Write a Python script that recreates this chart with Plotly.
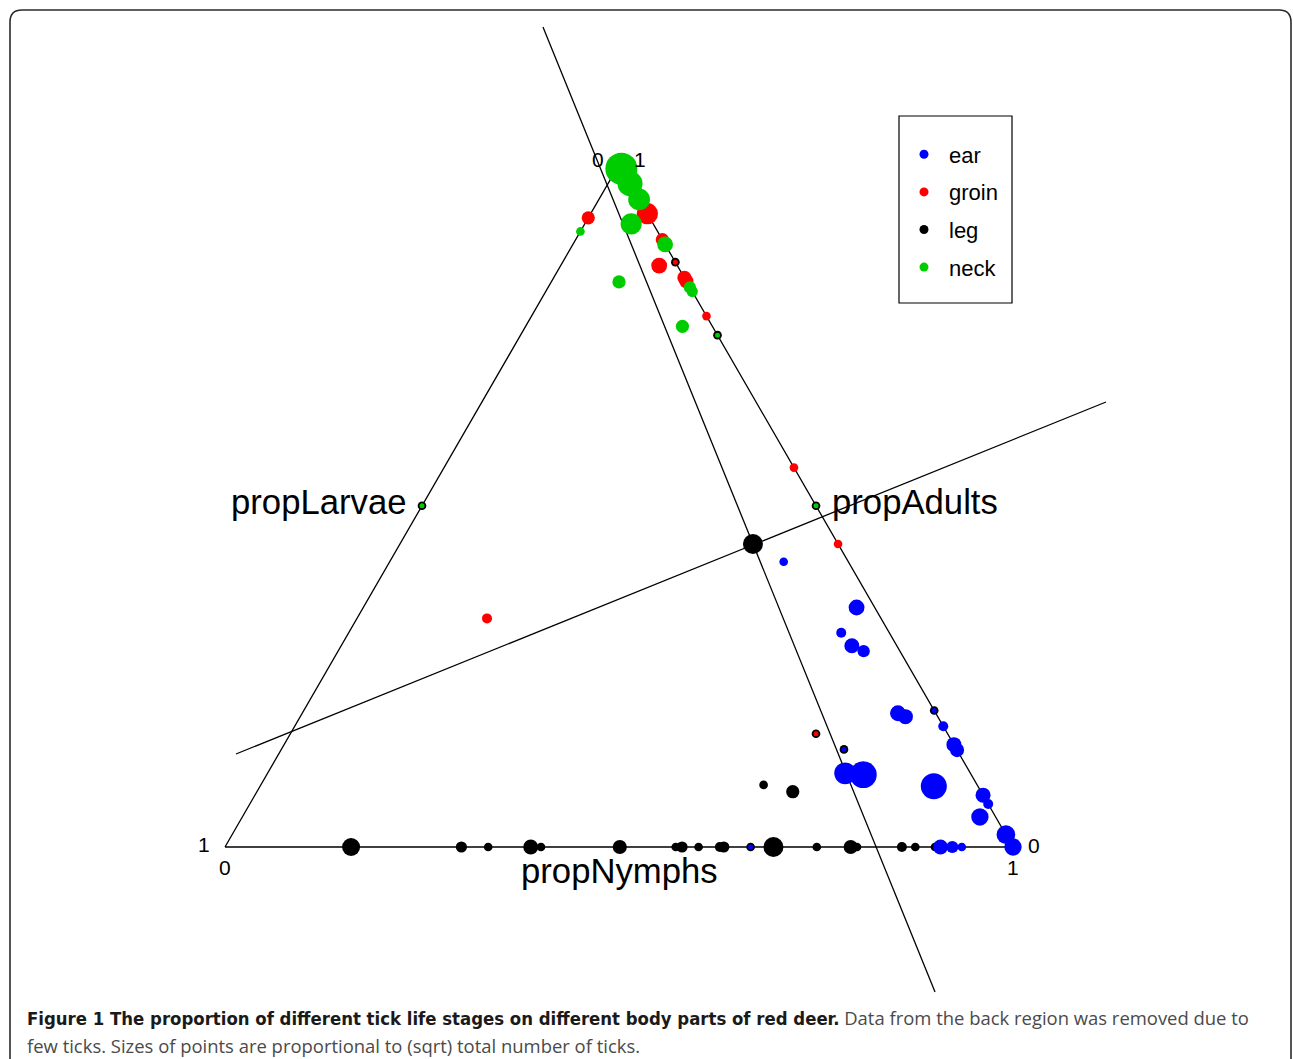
import numpy as np
import plotly.graph_objects as go

# ---------------- data: proportions (larvae, nymphs, adults) and total ticks ----------------
ear_larvae = [0.023, 0.061, 0.057, 0.046, 0.048, 0.041, 0, 0, 0, 0, 0.143, 0.159, 0.137, 0.056,
              0, 0, 0.020, 0, 0, 0.082, 0.092, 0.077, 0.065, 0.333]
ear_nymphs = [0.626, 0.625, 0.648, 0.667, 0.756, 0.768, 0.8, 0.823, 0.85, 0.858, 0.714, 0.733, 0.757, 0.855,
              0.924, 0.937, 0.936, 0.982, 1.0, 0.500, 0.908, 0.923, 0.935, 0.667]
ear_adults = [0.351, 0.314, 0.295, 0.287, 0.196, 0.191, 0.2, 0.177, 0.15, 0.142, 0.143, 0.108, 0.106, 0.089,
              0.076, 0.063, 0.044, 0.018, 0, 0.418, 0, 0, 0, 0]
ear_total = [10, 4, 9, 6, 10, 9, 1, 4, 9, 8, 1, 19, 29, 27, 9, 4, 12, 14, 12, 3, 9, 6, 3, 1]

groin_larvae = [0, 0.078, 0, 0, 0.023, 0, 0, 0, 0, 0, 0.5, 0.167]
groin_nymphs = [0.072, 0, 0.11, 0.143, 0.125, 0.166, 0.171, 0.222, 0.444, 0.556, 0.165, 0.667]
groin_adults = [0.928, 0.922, 0.89, 0.857, 0.852, 0.834, 0.829, 0.778, 0.556, 0.444, 0.335, 0.166]
groin_total = [18, 7, 7, 1, 10, 8, 8, 3, 3, 3, 4, 1]

leg_larvae = [0.271, 0.239, 0.840, 0.700, 0.666, 0.612, 0.599, 0.499, 0.428, 0.420, 0.399, 0.372, 0.367,
              0.304, 0.249, 0.206, 0.198, 0.141, 0.124, 0.099, 0.5, 0, 0, 0, 0, 0.143, 0.167, 0.333]
leg_nymphs = [0.638, 0.680, 0.160, 0.300, 0.334, 0.388, 0.401, 0.501, 0.572, 0.580, 0.601, 0.628, 0.633,
              0.696, 0.751, 0.794, 0.802, 0.859, 0.876, 0.901, 0, 0.5, 0.25, 0.143, 0.8, 0.714, 0.667, 0.667]
leg_adults = [0.091, 0.081, 0, 0, 0, 0, 0, 0, 0, 0, 0, 0, 0,
              0, 0, 0, 0, 0, 0, 0, 0.5, 0.5, 0.75, 0.857, 0.2, 0.143, 0.166, 0]
leg_total = [3, 7, 13, 5, 3, 9, 3, 8, 3, 5, 3, 4, 5, 16, 3, 8, 3, 4, 3, 3, 3, 3, 3, 3, 3, 3, 3, 3]

neck_larvae = [0, 0, 0, 0.028, 0.098, 0, 0, 0, 0.086, 0.038, 0, 0, 0.5]
neck_nymphs = [0.006, 0.028, 0.051, 0.059, 0, 0.117, 0.18, 0.186, 0.086, 0.199, 0.25, 0.5, 0]
neck_adults = [0.994, 0.972, 0.949, 0.913, 0.902, 0.883, 0.82, 0.814, 0.828, 0.763, 0.75, 0.5, 0.5]
neck_total = [41, 25, 19, 18, 3, 10, 6, 5, 7, 7, 1, 1, 1]

# centre of the compositions and the two principal axes through it (larvae, nymphs, adults)
centre = [0.108, 0.448, 0.444]
centre_total = 16
axis1_start = [-0.0043, -0.1973, 1.2016]
axis1_end = [0.2052, 1.0073, -0.2125]
axis2_start = [0.9179, -0.0542, 0.1363]
axis2_end = [-0.4441, 0.7920, 0.6521]

vertex_larvae = [1, 0, 0]
vertex_nymphs = [0, 1, 0]
vertex_adults = [0, 0, 1]

parts = ["ear", "groin", "leg", "neck"]
colours = {"ear": "#0000FF", "groin": "#FF0000", "leg": "#000000", "neck": "#00CD00"}

# ---------------- helpers ----------------
H = np.sqrt(3) / 2


def tern(l, n, a):
    l, n, a = (np.asarray(v, dtype=float) for v in (l, n, a))
    s = l + n + a
    return (n + a / 2) / s, (a * H) / s


def msize(total):
    return 5 * np.sqrt(np.asarray(total, dtype=float))


W, HGT = 1293, 1059
BLX, BLY, SCALE = 225, 847, 788  # pixel of larvae vertex and px per unit

fig = go.Figure()

# triangle
tx, ty = tern([1, 0, 0, 1], [0, 1, 0, 0], [0, 0, 1, 0])
fig.add_trace(go.Scatter(x=tx, y=ty, mode="lines", line=dict(color="black", width=1.3),
                         hoverinfo="skip", showlegend=False))

# principal axes
for s, e in [(axis1_start, axis1_end), (axis2_start, axis2_end)]:
    lx, ly = tern([s[0], e[0]], [s[1], e[1]], [s[2], e[2]])
    fig.add_trace(go.Scatter(x=lx, y=ly, mode="lines", line=dict(color="black", width=1.3),
                             hoverinfo="skip", showlegend=False))

data = {
    "ear": (ear_larvae, ear_nymphs, ear_adults, ear_total),
    "groin": (groin_larvae, groin_nymphs, groin_adults, groin_total),
    "leg": (leg_larvae, leg_nymphs, leg_adults, leg_total),
    "neck": (neck_larvae, neck_nymphs, neck_adults, neck_total),
}

for p in ["leg", "ear", "groin", "neck"]:
    l, n, a, t = data[p]
    x, y = tern(l, n, a)
    fig.add_trace(go.Scatter(x=x, y=y, mode="markers", name=p, showlegend=False,
                             marker=dict(color=colours[p], size=msize(t), line=dict(width=0), opacity=1)))

cx, cy = tern([centre[0]], [centre[1]], [centre[2]])
fig.add_trace(go.Scatter(x=cx, y=cy, mode="markers", showlegend=False,
                         marker=dict(color="black", size=msize([centre_total]), line=dict(width=0),
                                     opacity=1)))

# legend entries
for p in parts:
    fig.add_trace(go.Scatter(x=[None], y=[None], mode="markers", name=p, legendgroup=p,
                             marker=dict(color=colours[p], size=9)))

# ---------------- annotations ----------------
LBL = "Liberation Sans, Arial, Helvetica, sans-serif"
ann = []
mlx, mly = tern([0.5], [0], [0.5])
mrx, mry = tern([0], [0.5], [0.5])
mbx, mby = tern([0.5], [0.5], [0])
ann.append(dict(x=mlx[0], y=mly[0], text="propLarvae", xanchor="right", yanchor="middle",
                xshift=-13, yshift=4, font=dict(size=34.7, family=LBL, color="black")))
ann.append(dict(x=mrx[0], y=mry[0], text="propAdults", xanchor="left", yanchor="middle",
                xshift=14, yshift=4, font=dict(size=34.7, family=LBL, color="black")))
ann.append(dict(x=mbx[0], y=mby[0], text="propNymphs", xanchor="center", yanchor="middle",
                yshift=-24, font=dict(size=34.7, family=LBL, color="black")))

vt = tern(*vertex_adults)
vl = tern(*vertex_larvae)
vn = tern(*vertex_nymphs)
ticks = [
    (vt, "0", -21, 5), (vt, "1", 21, 5),
    (vl, "1", -21, 3), (vl, "0", 0, -20),
    (vn, "0", 21, 2), (vn, "1", 0, -20),
]
for (vx, vy), txt, dx, dy in ticks:
    ann.append(dict(x=float(vx), y=float(vy), text=txt, xanchor="center", yanchor="middle",
                    xshift=dx, yshift=dy, font=dict(size=21, family=LBL, color="black")))

cap1 = ('<span style="font-family:Liberation Sans Narrow, DejaVu Sans Condensed;font-weight:bold;'
        'font-size:18.4px;color:#1a1a1a">Figure 1 The proportion of different tick life stages on '
        'different body parts of red deer.</span> Data from the back region was removed due to')
cap2 = "few ticks. Sizes of points are proportional to (sqrt) total number of ticks."
ann.append(dict(xref="paper", yref="paper", x=25 / W, y=1 - 1018 / HGT, text=cap1, xanchor="left",
                yanchor="middle", align="left", font=dict(size=18.45, family="Open Sans", color="#4a4a4a")))
ann.append(dict(xref="paper", yref="paper", x=25 / W, y=1 - 1045 / HGT, text=cap2, xanchor="left",
                yanchor="middle", align="left", font=dict(size=18.45, family="Open Sans", color="#4a4a4a")))

for a_ in ann:
    a_["showarrow"] = False


# ---------------- shapes: outer frame and legend box ----------------
def px(xp):
    return xp / W


def py(yp):
    return 1 - yp / HGT


r = 12
frame = (f"M {px(10)},{py(1075)} L {px(10)},{py(10 + r)} Q {px(10)},{py(10)} {px(10 + r)},{py(10)} "
         f"L {px(1291 - r)},{py(10)} Q {px(1291)},{py(10)} {px(1291)},{py(10 + r)} L {px(1291)},{py(1075)}")
shapes = [
    dict(type="path", xref="paper", yref="paper", path=frame, line=dict(color="#2b2b2b", width=1.6)),
    dict(type="rect", xref="paper", yref="paper", x0=px(899), x1=px(1012), y0=py(303), y1=py(116),
         line=dict(color="black", width=1.2)),
]

fig.update_layout(
    width=W, height=HGT, margin=dict(l=0, r=0, t=0, b=0),
    paper_bgcolor="white", plot_bgcolor="white",
    xaxis=dict(range=[-BLX / SCALE, (W - BLX) / SCALE], visible=False, showgrid=False, zeroline=False),
    yaxis=dict(range=[-(HGT - BLY) / SCALE, BLY / SCALE], visible=False, showgrid=False, zeroline=False),
    showlegend=True,
    legend=dict(x=px(899), y=py(133.5), xanchor="left", yanchor="top", bgcolor="rgba(0,0,0,0)",
                borderwidth=0, traceorder="grouped", tracegroupgap=6, itemwidth=40,
                font=dict(size=22, family=LBL, color="black")),
    annotations=ann, shapes=shapes,
)

fig.write_html("out.html", config={"displayModeBar": False},
               post_script="document.body.style.margin='0px';document.body.style.overflow='hidden';")
